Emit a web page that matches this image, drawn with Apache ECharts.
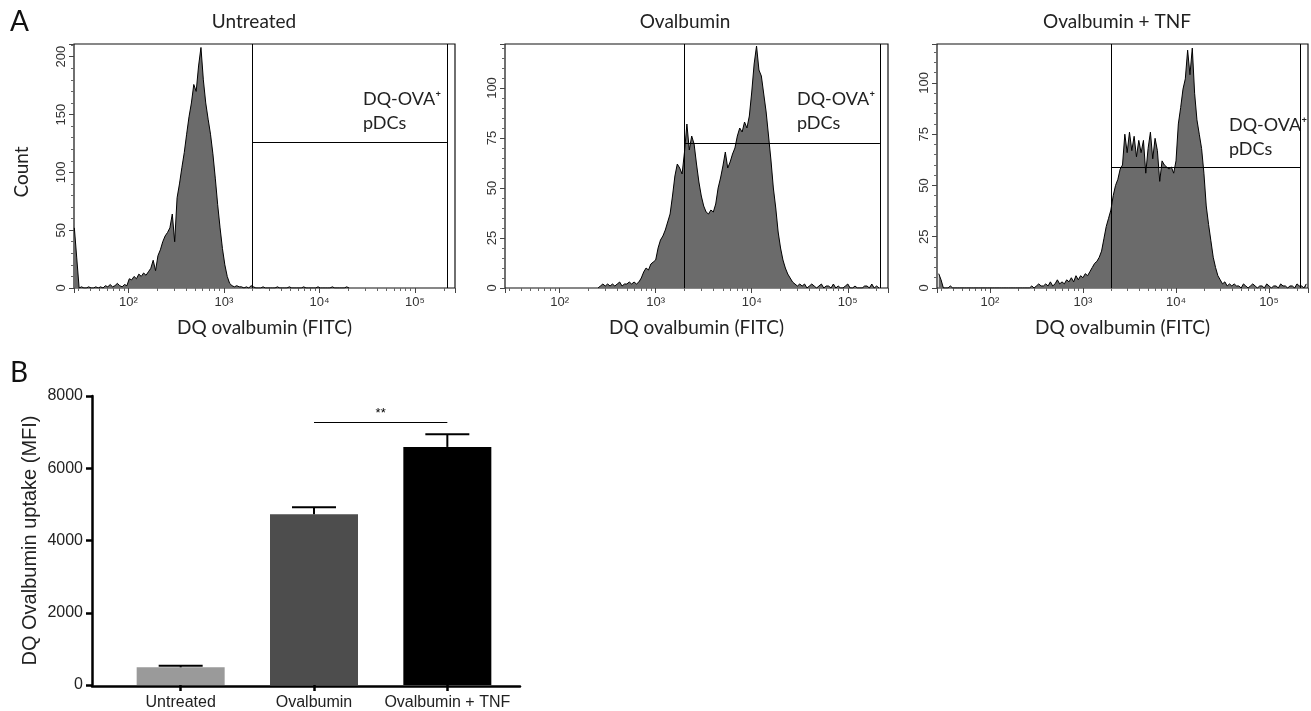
<!DOCTYPE html>
<html>
<head>
<meta charset="utf-8">
<title>DQ ovalbumin uptake</title>
<script src="https://cdn.jsdelivr.net/npm/echarts/dist/echarts.min.js"></script>
<style>
  html, body { margin: 0; padding: 0; background: #fff; }
  #main { width: 1311px; height: 711px; }
</style>
</head>
<body>
<div id="main"></div>
<script>
// histogram bins are spaced evenly on the log10 axis
var BIN_STEP = 0.025;

var untreatedStart = 1.435;
var untreatedCounts = [
  52, 26, 0, 1, 0, 0, 1, 0, 0, 1, 0, 1, 0, 2, 1, 3, 1, 2, 4, 2,
  1, 3, 2, 8, 7, 10, 8, 12, 10, 13, 11, 14, 17, 24, 15, 28, 33, 40, 45, 48,
  52, 64, 40, 78, 90, 104, 117, 133, 148, 160, 176, 170, 192, 208, 180, 160, 146, 133, 116, 95,
  72, 52, 34, 20, 10, 4, 2, 1, 2, 1, 1, 0, 1, 0, 2, 1, 0,
  0, 0, 1, 0, 0, 0, 0, 0, 1, 0, 0, 0, 0, 1, 0, 0, 0, 0, 0, 1,
  0, 0, 0, 0, 0, 1, 0, 0, 0, 0, 0, 1, 0, 0, 0, 0, 0, 1, 0
];

var ovalbuminStart = 2.40;
var ovalbuminCounts = [
  0, 1, 2, 1, 2, 1, 2, 1, 2, 3, 1, 2, 2, 3, 2, 3, 2, 3, 5, 8,
  10, 9, 12, 13, 14, 20, 24, 26, 29, 33, 37, 46, 56, 62, 60, 57, 68, 82, 69, 76,
  72, 62, 53, 46, 41, 38, 37, 39, 38, 42, 50, 55, 61, 68, 60, 63, 67, 70, 76, 80,
  78, 83, 80, 86, 98, 112, 121, 109, 106, 97, 88, 76, 64, 50, 40, 28, 20, 14, 10, 7,
  5, 3, 2, 1, 2, 1, 2, 0, 1,
  2, 1, 0, 1, 2, 0, 1, 1, 0, 2, 0, 1, 0, 0, 1, 2, 0, 0, 1, 0,
  0, 0, 1, 1, 0, 2, 0, 1, 0
];

var tnfStart = 1.45;
var tnfCounts = [
  7, 4,
  0, 0, 0, 1, 0, 0, 0, 0, 0, 0, 0, 0, 0, 0, 0, 0, 0, 0,
  0, 0, 0, 0, 0, 0, 0, 0, 0, 0, 0, 0, 0, 0, 0, 0, 0, 0,
  0, 0, 1, 0, 1, 2, 1, 1, 2, 1, 3, 1, 2, 4, 2, 3, 2, 4, 3, 5,
  3, 6, 4, 6, 5, 7, 6, 8, 10, 12, 13, 15, 18, 24, 30, 34, 38, 45, 50, 53,
  58, 60, 75, 66, 76, 67, 74, 64, 72, 66, 72, 56, 68, 76, 63, 73, 67, 52, 62, 60,
  59, 58, 59, 56, 62, 80, 88, 97, 102, 116, 104, 117, 95, 82, 75, 68, 56, 40, 31, 23,
  15, 10, 6, 4, 2, 3, 1, 2, 1,
  2, 1, 1, 0, 2, 1, 0, 1, 2, 1, 0, 1, 1, 0, 2, 1, 0, 1, 1, 0,
  2, 1, 1, 0, 1, 1, 0, 2, 1, 1, 0, 2
];

var panelTitles = ['Untreated', 'Ovalbumin', 'Ovalbumin + TNF'];
var xTickLabels = {2: '10²', 3: '10³', 4: '10⁴', 5: '10⁵'};
var xMin = 27;
var xMax = 262144;
var yMax = [211, 122, 119];
var yInterval = [50, 25, 25];
var gateX = [2000, 216000];
var gateY = [126, 72.5, 59];

var barCategories = ['Untreated', 'Ovalbumin', 'Ovalbumin + TNF'];
var barMeans = [490, 4730, 6590];
var barSem = [40, 190, 350];
var barColors = ['#9a9a9a', '#4d4d4d', '#000000'];
var sigPair = ['Ovalbumin', 'Ovalbumin + TNF'];
var sigLevel = 7280;

var histStarts = [untreatedStart, ovalbuminStart, tnfStart];
var histCounts = [untreatedCounts, ovalbuminCounts, tnfCounts];

var histGrids = [
  {left: 74, top: 44, width: 381, height: 244},
  {left: 505, top: 44, width: 383, height: 244},
  {left: 937, top: 44, width: 382, height: 244}
];
var titleX = [254, 685, 1117];
var gateLabelPos = [[363, 99], [797, 99], [1229, 125]];

function histData(start, counts) {
  var out = [];
  for (var i = 0; i < counts.length; i++) {
    out.push([Math.pow(10, start + i * BIN_STEP), counts[i]]);
  }
  return out;
}

function logLabel(v) {
  var e = Math.round(Math.log(v) / Math.LN10);
  if (Math.abs(v - Math.pow(10, e)) > 1e-6 * v) return '';
  return xTickLabels[e] || '';
}

var grids = [], xAxes = [], yAxes = [], series = [], graphics = [];

for (var p = 0; p < 3; p++) {
  var g = histGrids[p];
  grids.push({
    left: g.left, top: g.top, width: g.width, height: g.height,
    show: true, borderColor: '#111', borderWidth: 1.2, backgroundColor: 'transparent'
  });
  xAxes.push({
    type: 'log', logBase: 10, gridIndex: p, min: xMin, max: xMax,
    name: 'DQ ovalbumin (FITC)', nameLocation: 'middle', nameGap: 30,
    nameTextStyle: {fontFamily: 'Lato', fontSize: 19, color: '#222'},
    axisLine: {show: false},
    axisTick: {show: true, length: 5, lineStyle: {color: '#444'}},
    minorTick: {show: true, splitNumber: 9, length: 3, lineStyle: {color: '#666'}},
    splitLine: {show: false},
    axisLabel: {fontSize: 13, color: '#333', margin: 8, formatter: logLabel}
  });
  (function(step) {
    yAxes.push({
      type: 'value', gridIndex: p, min: 0, max: yMax[p], interval: step,
      axisLine: {show: false},
      axisTick: {show: true, length: 5, lineStyle: {color: '#444'}},
      minorTick: {show: true, splitNumber: 5, length: 3, lineStyle: {color: '#666'}},
      splitLine: {show: false},
      axisLabel: {
        rotate: 90, fontSize: 13, color: '#333', margin: 6,
        formatter: function(v) { return v % step === 0 ? String(v) : ''; }
      }
    });
  })(yInterval[p]);
  series.push({
    type: 'line', xAxisIndex: p, yAxisIndex: p,
    data: histData(histStarts[p], histCounts[p]),
    showSymbol: false, symbol: 'none', silent: true, animation: false,
    lineStyle: {color: '#000', width: 1},
    areaStyle: {color: '#6b6b6b', opacity: 1},
    markLine: {
      silent: true, animation: false, symbol: ['none', 'none'],
      label: {show: false}, emphasis: {disabled: true},
      lineStyle: {color: '#000', width: 1, type: 'solid'},
      data: [
        [{coord: [gateX[0], 0]}, {coord: [gateX[0], yMax[p]]}],
        [{coord: [gateX[1], 0]}, {coord: [gateX[1], yMax[p]]}],
        [{coord: [gateX[0], gateY[p]]}, {coord: [gateX[1], gateY[p]]}]
      ]
    }
  });
  graphics.push({
    type: 'text', x: titleX[p], y: 22,
    style: {text: panelTitles[p], font: '19px Lato', fill: '#222', align: 'center', verticalAlign: 'middle'}
  });
  graphics.push({
    type: 'text', x: gateLabelPos[p][0], y: gateLabelPos[p][1],
    style: {text: 'DQ-OVA⁺', font: '18px Lato', fill: '#222', align: 'left', verticalAlign: 'middle'}
  });
  graphics.push({
    type: 'text', x: gateLabelPos[p][0], y: gateLabelPos[p][1] + 24,
    style: {text: 'pDCs', font: '18px Lato', fill: '#222', align: 'left', verticalAlign: 'middle'}
  });
}

// panel B: bars (grid 3) and the long baseline (grid 4)
grids.push({left: 114, top: 396, width: 400, height: 290});
grids.push({left: 92, top: 396, width: 428, height: 290});

xAxes.push({
  type: 'category', gridIndex: 3, data: barCategories,
  axisLine: {show: false},
  axisTick: {show: true, alignWithLabel: true, length: 6, lineStyle: {color: '#000', width: 2.5}},
  axisLabel: {interval: 0, fontSize: 16, color: '#222', margin: 10, fontFamily: 'Liberation Sans'}
});
yAxes.push({
  type: 'value', gridIndex: 3, min: 0, max: 8000, interval: 2000, offset: 22,
  name: 'DQ Ovalbumin uptake (MFI)', nameLocation: 'middle', nameGap: 52,
  nameTextStyle: {fontSize: 20, color: '#222', fontFamily: 'Liberation Sans'},
  axisLine: {show: true, lineStyle: {color: '#000', width: 2.5}},
  axisTick: {show: true, length: 6, lineStyle: {color: '#000', width: 2.5}},
  axisLabel: {
    fontSize: 16, color: '#222', margin: 9, fontFamily: 'Liberation Sans',
    formatter: function(v) { return String(v); }
  },
  splitLine: {show: false}
});
xAxes.push({
  type: 'value', gridIndex: 4, min: 0, max: 1,
  axisLine: {show: true, onZero: false, lineStyle: {color: '#000', width: 2.5}},
  axisTick: {show: false}, axisLabel: {show: false}, splitLine: {show: false}
});
yAxes.push({type: 'value', gridIndex: 4, min: 0, max: 1, show: false});

series.push({
  type: 'bar', xAxisIndex: 3, yAxisIndex: 3, barWidth: 88, animation: false, silent: true,
  data: barMeans.map(function(v, i) {
    return {value: v, itemStyle: {color: barColors[i]}};
  }),
  markLine: {
    silent: true, animation: false, symbol: ['none', 'none'], emphasis: {disabled: true},
    lineStyle: {color: '#000', width: 1, type: 'solid'},
    label: {show: true, position: 'middle', formatter: '**', fontSize: 13, color: '#000', distance: 2},
    data: [[{coord: [sigPair[0], sigLevel]}, {coord: [sigPair[1], sigLevel]}]]
  }
});
series.push({
  type: 'custom', xAxisIndex: 3, yAxisIndex: 3, animation: false, silent: true, z: 5,
  encode: {x: 0, y: 1},
  data: barMeans.map(function(v, i) { return [i, v, barSem[i]]; }),
  renderItem: function(params, api) {
    var base = api.coord([api.value(0), api.value(1)]);
    var top = api.coord([api.value(0), api.value(1) + api.value(2)]);
    var half = 22;
    return {
      type: 'group',
      children: [
        {type: 'line', shape: {x1: base[0], y1: base[1], x2: top[0], y2: top[1]}, style: {stroke: '#000', lineWidth: 2}},
        {type: 'line', shape: {x1: top[0] - half, y1: top[1], x2: top[0] + half, y2: top[1]}, style: {stroke: '#000', lineWidth: 2}}
      ]
    };
  }
});

graphics.push({type: 'text', x: 10, y: 22, style: {text: 'A', font: '28px Lato', fill: '#111', verticalAlign: 'middle'}});
graphics.push({type: 'text', x: 10, y: 373, style: {text: 'B', font: '28px Lato', fill: '#111', verticalAlign: 'middle'}});
graphics.push({
  type: 'text', x: 22, y: 172, rotation: Math.PI / 2,
  style: {text: 'Count', font: '19px Lato', fill: '#222', align: 'center', verticalAlign: 'middle'}
});

var chart = echarts.init(document.getElementById('main'));
chart.setOption({
  animation: false,
  textStyle: {fontFamily: 'Liberation Sans'},
  grid: grids,
  xAxis: xAxes,
  yAxis: yAxes,
  series: series,
  graphic: graphics
});
</script>
</body>
</html>
